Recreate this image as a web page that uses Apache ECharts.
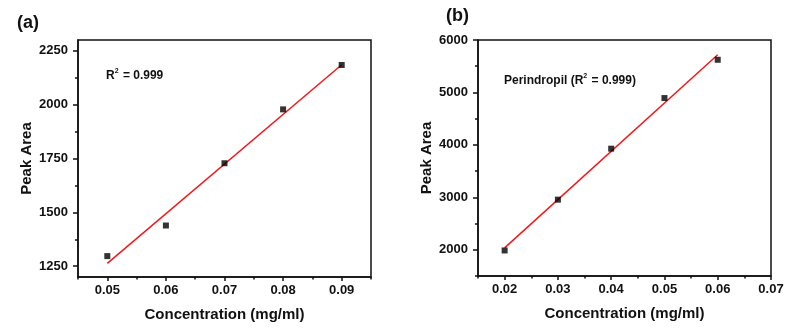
<!DOCTYPE html>
<html>
<head>
<meta charset="utf-8">
<script src="https://cdn.jsdelivr.net/npm/echarts@6/dist/echarts.min.js"></script>
<style>
html, body { margin: 0; padding: 0; background: #fff; }
#main { width: 789px; height: 332px; }
</style>
</head>
<body>
<div id="main"></div>
<script>
// panel (a)
var concA = [0.05, 0.06, 0.07, 0.08, 0.09];
var areaA = [1297, 1439, 1728, 1978, 2184];
var fitA = [[0.05, 1263], [0.09, 2185]];
var xTicksA = [0.05, 0.06, 0.07, 0.08, 0.09];
var xMinorA = [0.045, 0.055, 0.065, 0.075, 0.085, 0.095];
var yTicksA = [1250, 1500, 1750, 2000, 2250];
var yMinorA = [1375, 1625, 1875, 2125];

// panel (b)
var concB = [0.02, 0.03, 0.04, 0.05, 0.06];
var areaB = [1987, 2956, 3928, 4893, 5623];
var fitB = [[0.02, 2036], [0.06, 5719]];
var xTicksB = [0.02, 0.03, 0.04, 0.05, 0.06, 0.07];
var xMinorB = [0.015, 0.025, 0.035, 0.045, 0.055, 0.065];
var yTicksB = [2000, 3000, 4000, 5000, 6000];
var yMinorB = [1500, 2500, 3500, 4500, 5500];

var fontFam = 'Liberation Sans, Arial, sans-serif';
var axisLineStyle = { color : '#111', width : 1.5 };

function xAxisPair(gridIndex, min, max, major, minor) {
	return [ {
		type : 'value',
		gridIndex : gridIndex,
		position : 'bottom',
		min : min,
		max : max,
		name : 'Concentration (mg/ml)',
		nameLocation : 'middle',
		nameGap : 30,
		nameTextStyle : { color : '#111', fontWeight : 'bold', fontSize : 15, fontFamily : fontFam },
		axisLine : { show : true, lineStyle : axisLineStyle },
		axisTick : { show : true, length : 4, customValues : major, lineStyle : axisLineStyle },
		axisLabel : {
			customValues : major,
			margin : 7,
			color : '#111',
			fontWeight : 'bold',
			fontSize : 13,
			fontFamily : fontFam,
			formatter : function(v) { return v.toFixed(2); }
		},
		splitLine : { show : false }
	}, {
		type : 'value',
		gridIndex : gridIndex,
		position : 'bottom',
		offset : 0,
		min : min,
		max : max,
		axisLine : { show : false },
		axisTick : { show : true, length : 2.5, customValues : minor, lineStyle : axisLineStyle },
		axisLabel : { show : false },
		splitLine : { show : false }
	} ];
}

function yAxisPair(gridIndex, min, max, major, minor) {
	return [ {
		type : 'value',
		gridIndex : gridIndex,
		position : 'left',
		min : min,
		max : max,
		name : 'Peak Area',
		nameLocation : 'middle',
		nameGap : 44,
		nameTextStyle : { color : '#111', fontWeight : 'bold', fontSize : 15, fontFamily : fontFam },
		axisLine : { show : true, lineStyle : axisLineStyle },
		axisTick : { show : true, length : 5, customValues : major, lineStyle : axisLineStyle },
		axisLabel : {
			customValues : major,
			margin : 10,
			color : '#111',
			fontWeight : 'bold',
			fontSize : 13,
			fontFamily : fontFam,
			formatter : function(v) { return String(v); }
		},
		splitLine : { show : false }
	}, {
		type : 'value',
		gridIndex : gridIndex,
		position : 'left',
		offset : 0,
		min : min,
		max : max,
		axisLine : { show : false },
		axisTick : { show : true, length : 3, customValues : minor, lineStyle : axisLineStyle },
		axisLabel : { show : false },
		splitLine : { show : false }
	} ];
}

function toPairs(xs, ys) {
	return xs.map(function(x, i) { return [x, ys[i]]; });
}

var supRich = {
	b : { fontSize : 12, fontWeight : 'bold', color : '#111', fontFamily : fontFam, lineHeight : 16 },
	sup : { fontSize : 7, fontWeight : 'bold', color : '#111', fontFamily : fontFam, verticalAlign : 'top', lineHeight : 16, padding : [0, 1, 0, 0] }
};

var chart = echarts.init(document.getElementById('main'), null, { renderer : 'canvas' });

var option = {
	backgroundColor : '#fff',
	animation : false,
	title : [ {
		text : '(a)',
		left : 12,
		top : 9,
		textStyle : { color : '#111', fontWeight : 'bold', fontSize : 18, fontFamily : fontFam }
	}, {
		text : '(b)',
		left : 441,
		top : 2,
		textStyle : { color : '#111', fontWeight : 'bold', fontSize : 18, fontFamily : fontFam }
	}, {
		text : '{b|R}{sup|2}{b| = 0.999}',
		left : 101,
		top : 63,
		textStyle : { rich : supRich }
	}, {
		text : '{b|Perindropil (R}{sup|2}{b| = 0.999)}',
		left : 499,
		top : 68,
		textStyle : { rich : supRich }
	} ],
	grid : [ {
		left : 78,
		top : 40,
		width : 293,
		height : 237,
		show : true,
		borderColor : '#111',
		borderWidth : 1.5,
		backgroundColor : 'transparent'
	}, {
		left : 478,
		top : 40,
		width : 293,
		height : 236,
		show : true,
		borderColor : '#111',
		borderWidth : 1.5,
		backgroundColor : 'transparent'
	} ],
	xAxis : xAxisPair(0, 0.045, 0.095, xTicksA, xMinorA).concat(xAxisPair(1, 0.015, 0.07, xTicksB, xMinorB)),
	yAxis : yAxisPair(0, 1200, 2300, yTicksA, yMinorA).concat(yAxisPair(1, 1500, 6000, yTicksB, yMinorB)),
	series : [ {
		type : 'line',
		xAxisIndex : 0,
		yAxisIndex : 0,
		data : fitA,
		symbol : 'none',
		lineStyle : { color : '#f21818', width : 1.5 },
		z : 2
	}, {
		type : 'scatter',
		xAxisIndex : 0,
		yAxisIndex : 0,
		data : toPairs(concA, areaA),
		symbol : 'rect',
		symbolSize : 6,
		itemStyle : { color : '#000' },
		z : 3
	}, {
		type : 'line',
		xAxisIndex : 2,
		yAxisIndex : 2,
		data : fitB,
		symbol : 'none',
		lineStyle : { color : '#f21818', width : 1.5 },
		z : 2
	}, {
		type : 'scatter',
		xAxisIndex : 2,
		yAxisIndex : 2,
		data : toPairs(concB, areaB),
		symbol : 'rect',
		symbolSize : 6,
		itemStyle : { color : '#000' },
		z : 3
	} ]
};

chart.setOption(option, true);
</script>
</body>
</html>
